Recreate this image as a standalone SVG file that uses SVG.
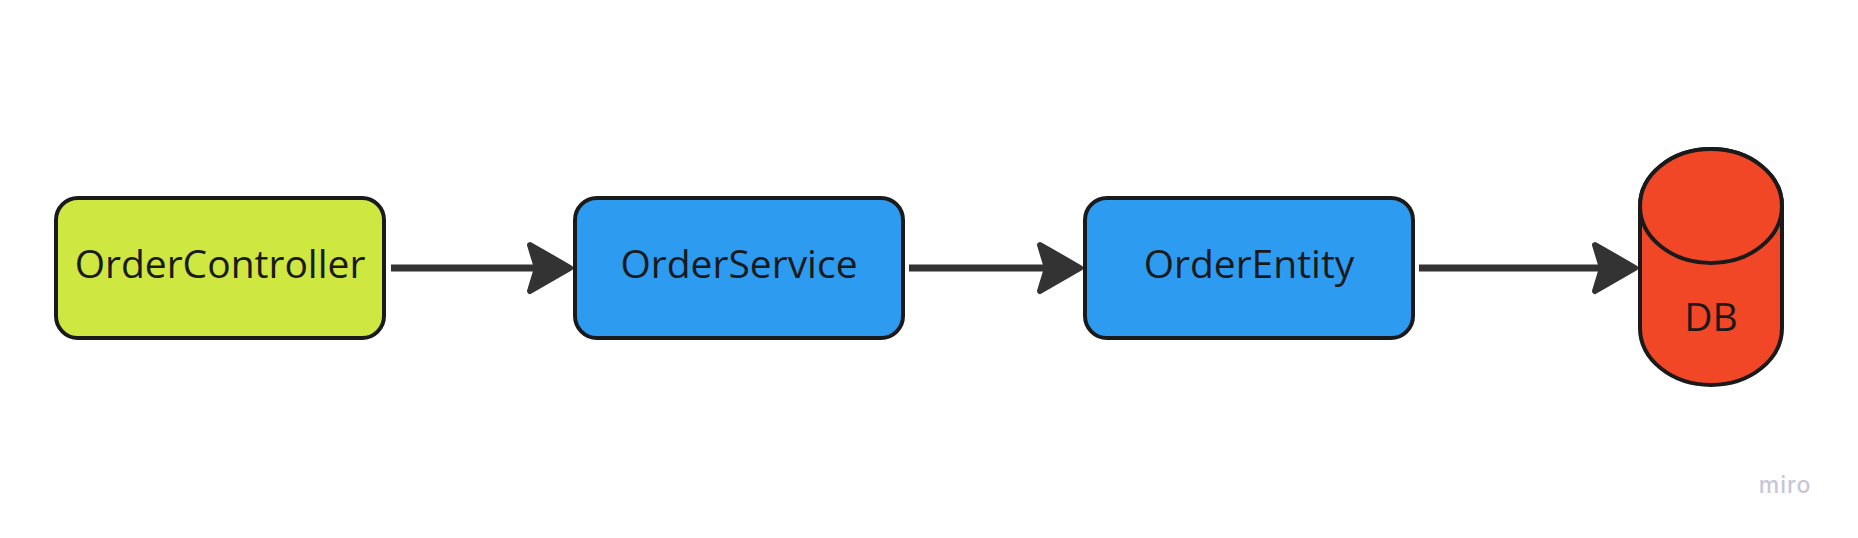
<svg xmlns="http://www.w3.org/2000/svg" width="1858" height="538" viewBox="0 0 1858 538">
  <style>
    .box { stroke: #1a1a1a; stroke-width: 4; }
    .lbl { font-family: "Open Sans", "Noto Sans", "Liberation Sans", sans-serif; font-size: 39px; fill: #1a1a1a; text-anchor: middle; }
    .edge { stroke: #333333; stroke-width: 7; fill: none; }
  </style>
  <defs>
    <marker id="arrow" viewBox="0 0 50 56" refX="10" refY="28" markerWidth="50" markerHeight="56" markerUnits="userSpaceOnUse" orient="auto" overflow="visible">
      <path d="M5 5 L45 28 L5 51 L12 28 Z" fill="#333333" stroke="#333333" stroke-width="6" stroke-linejoin="round"/>
    </marker>
  </defs>
  <rect width="1858" height="538" fill="#ffffff"/>
  <g id="connectors">
    <path class="edge" d="M391 268 L535 268" marker-end="url(#arrow)"/>
    <path class="edge" d="M909 268 L1045 268" marker-end="url(#arrow)"/>
    <path class="edge" d="M1419 268 L1600 268" marker-end="url(#arrow)"/>
  </g>
  <g id="OrderController">
    <rect class="box" x="56" y="198" width="328" height="140" rx="22" fill="#cee741"/>
    <text class="lbl" x="220" y="278">OrderController</text>
  </g>
  <g id="OrderService">
    <rect class="box" x="575" y="198" width="328" height="140" rx="22" fill="#2d9bf0"/>
    <text class="lbl" x="739" y="278">OrderService</text>
  </g>
  <g id="OrderEntity">
    <rect class="box" x="1085" y="198" width="328" height="140" rx="22" fill="#2d9bf0"/>
    <text class="lbl" x="1249" y="278">OrderEntity</text>
  </g>
  <g id="DB">
    <path class="box" d="M1640 206 L1640 328 A71 57 0 0 0 1782 328 L1782 206 A71 57 0 0 0 1640 206 Z" fill="#f24726"/>
    <ellipse class="box" cx="1711" cy="206" rx="71" ry="57" fill="#f24726"/>
    <text class="lbl" x="1711" y="331">DB</text>
  </g>
  <text x="1785" y="493" font-family="Inter, 'Open Sans', sans-serif" font-size="23" font-weight="500" letter-spacing="1" fill="#c6c6d9" text-anchor="middle">miro</text>
</svg>
